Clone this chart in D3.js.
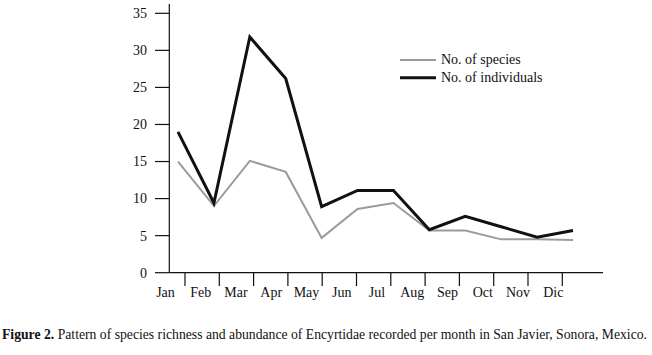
<!DOCTYPE html>
<html>
<head>
<meta charset="utf-8">
<script src="https://cdn.jsdelivr.net/npm/d3@7"></script>
<style>
  body { margin: 0; background: #fff; }
  text { font-family: "Liberation Serif", "Times New Roman", serif; fill: #111; }
</style>
</head>
<body>
<svg id="chart" width="652" height="355"></svg>
<script>
// data
const months = ["Jan", "Feb", "Mar", "Apr", "May", "Jun", "Jul", "Aug", "Sep", "Oct", "Nov", "Dic"];
const species = [15, 9, 15.1, 13.6, 4.7, 8.6, 9.4, 5.7, 5.7, 4.5, 4.5, 4.4];
const individuals = [19, 9.4, 31.8, 26.2, 8.9, 11.1, 11.1, 5.8, 7.6, 6.2, 4.8, 5.7];
const yTicks = [0, 5, 10, 15, 20, 25, 30, 35];
const legendItems = [
    { label: "No. of species", color: "#9b9b9b", width: 2 },
    { label: "No. of individuals", color: "#111", width: 3 }
];
const caption = "Pattern of species richness and abundance of Encyrtidae recorded per month in San Javier, Sonora, Mexico.";

const svg = d3.select("#chart");

// scales
const y = d3.scaleLinear().domain([0, 35]).range([272.7, 13.3]);
const xData = d3.scalePoint().domain(months).range([178, 573]);
const xLabel = d3.scalePoint().domain(months).range([165.5, 553.3]);
const xTick = d3.scalePoint().domain(months).range([185, 562.3]);

const axisX = 169.3;
const fs = 14;

// axes
const ax = svg.append("g").attr("stroke", "#111").attr("stroke-width", 1.2);
ax.append("line").attr("x1", axisX).attr("x2", axisX).attr("y1", 4).attr("y2", y(0));
ax.append("line").attr("x1", axisX).attr("x2", 603).attr("y1", y(0)).attr("y2", y(0));

// y ticks
ax.selectAll(".yt").data(yTicks).enter().append("line")
    .attr("x1", 155).attr("x2", axisX)
    .attr("y1", (d) => y(d)).attr("y2", (d) => y(d));
svg.selectAll(".ylab").data(yTicks).enter().append("text")
    .attr("x", 147).attr("y", (d) => y(d)).attr("dy", "0.35em")
    .attr("text-anchor", "end").attr("font-size", fs)
    .text((d) => d);

// x ticks and month labels
ax.selectAll(".xt").data(months).enter().append("line")
    .attr("x1", (d) => xTick(d)).attr("x2", (d) => xTick(d))
    .attr("y1", y(0)).attr("y2", 286);
svg.selectAll(".xlab").data(months).enter().append("text")
    .attr("x", (d) => xLabel(d)).attr("y", 297)
    .attr("text-anchor", "middle").attr("font-size", fs)
    .text((d) => d);

// lines
const line = d3.line()
    .x((d, i) => xData(months[i]))
    .y((d) => y(d));

svg.append("path").datum(species)
    .attr("d", line).attr("fill", "none")
    .attr("stroke", legendItems[0].color).attr("stroke-width", legendItems[0].width)
    .attr("stroke-linejoin", "miter");
svg.append("path").datum(individuals)
    .attr("d", line).attr("fill", "none")
    .attr("stroke", legendItems[1].color).attr("stroke-width", legendItems[1].width)
    .attr("stroke-linejoin", "miter");

// legend
const legend = svg.append("g").attr("transform", "translate(400,60)");
const li = legend.selectAll("g").data(legendItems).enter().append("g")
    .attr("transform", (d, i) => `translate(0,${i * 17.7})`);
li.append("line").attr("x1", 0).attr("x2", 36)
    .attr("stroke", (d) => d.color).attr("stroke-width", (d) => d.width);
li.append("text").attr("x", 41).attr("y", 0).attr("dy", "0.3em")
    .attr("font-size", fs).text((d) => d.label);

// caption
const cap = svg.append("text").attr("x", 2).attr("y", 339).attr("font-size", 13);
cap.append("tspan").attr("font-weight", "bold").text("Figure 2.");
cap.append("tspan").text(" " + caption);
const w = cap.node().getComputedTextLength();
cap.attr("font-size", 13 * 646 / w);
</script>
</body>
</html>
